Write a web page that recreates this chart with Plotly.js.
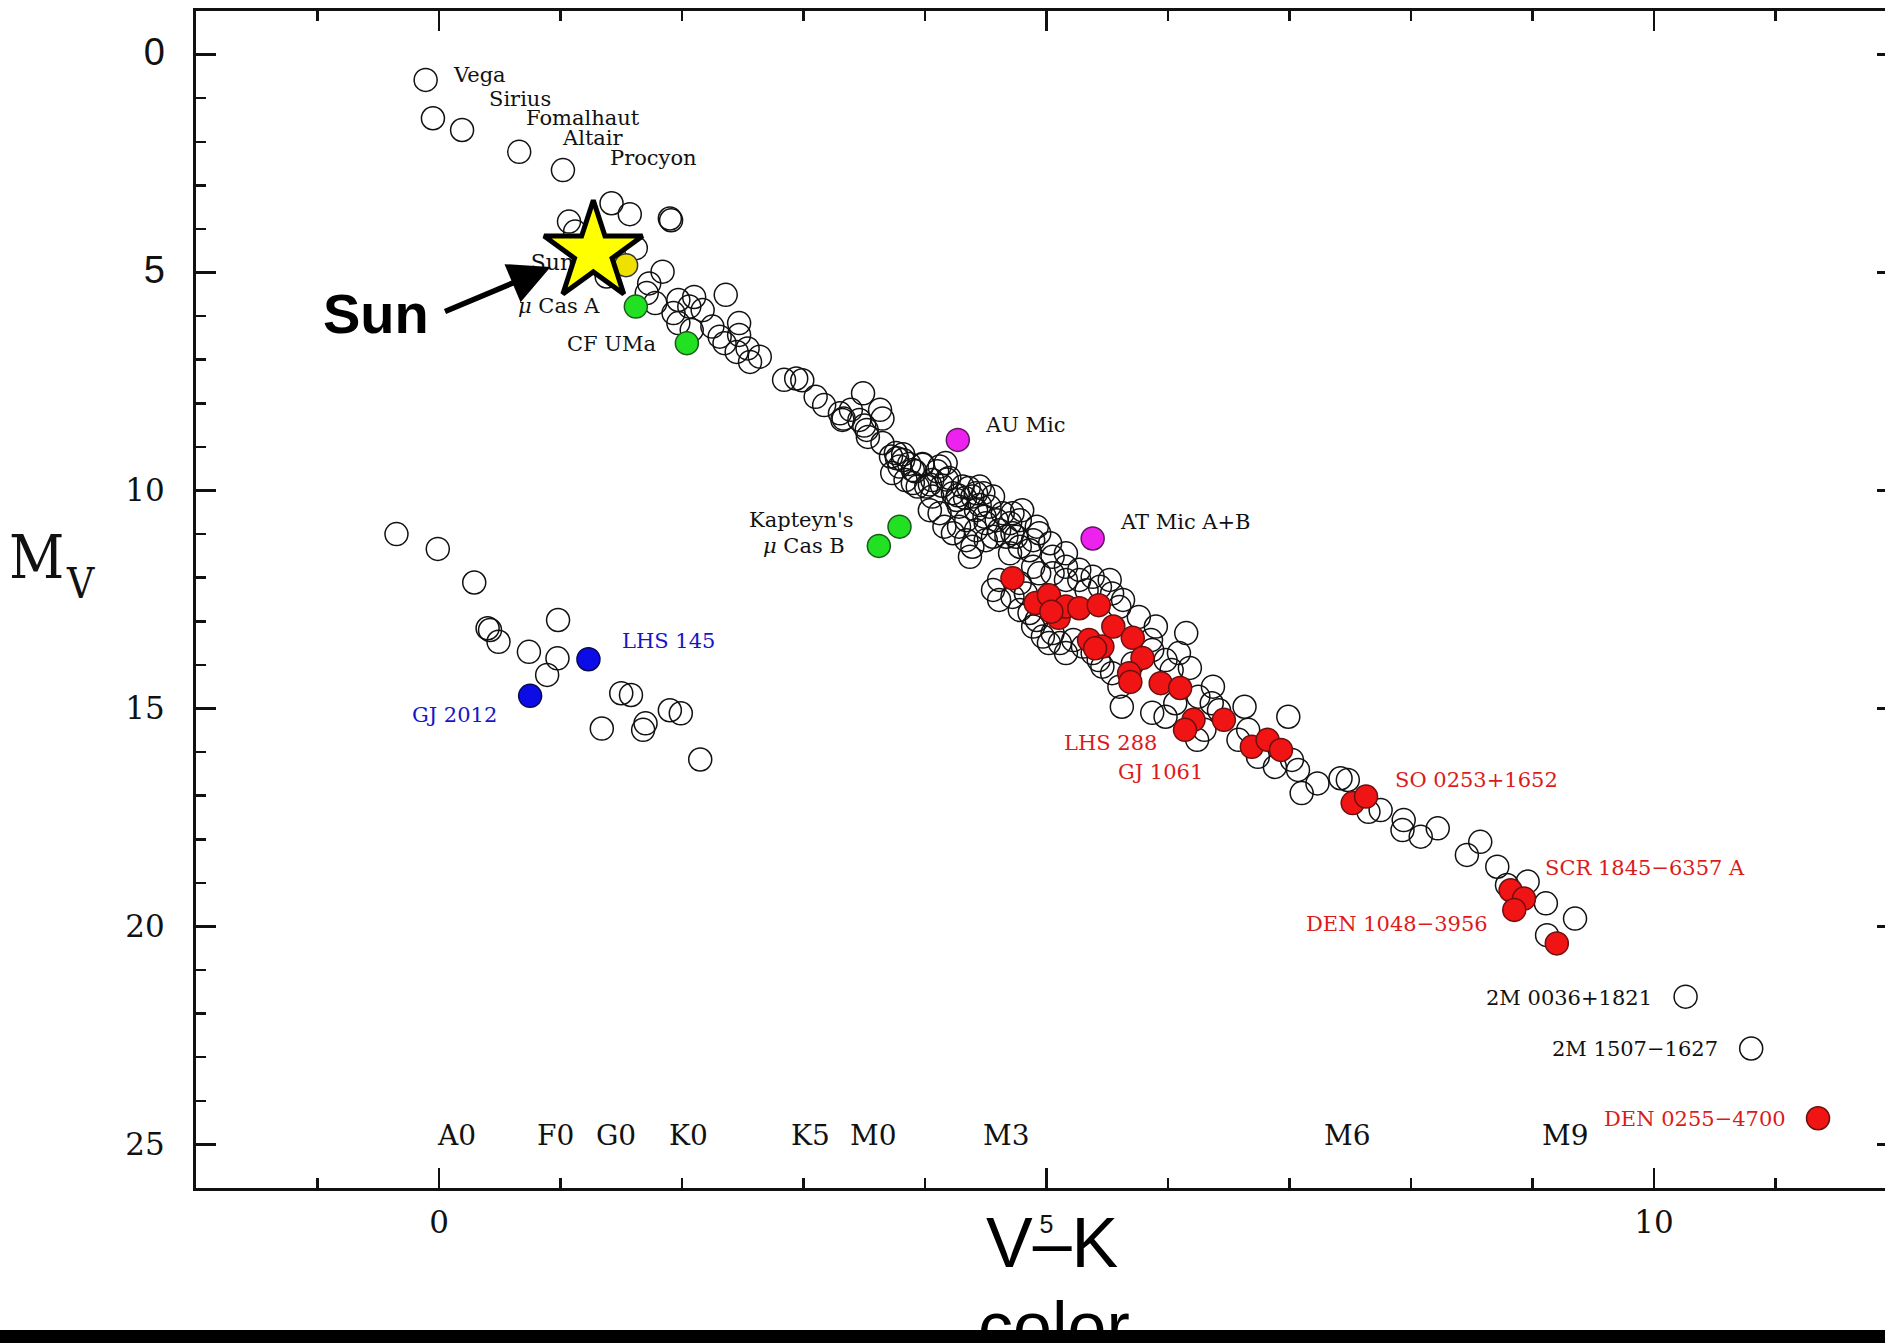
<!DOCTYPE html>
<html><head><meta charset="utf-8">
<script src="https://cdn.plot.ly/plotly-3.0.1.min.js"></script>
<style>
html,body{margin:0;padding:0;background:#000;overflow:hidden;width:1885px;height:1343px}
#chart{position:absolute;left:0;top:0;width:1900px;height:1330px}
</style>
</head><body><div id="chart"></div>
<script>
// ---- open circles: bright stars + main sequence (V-K, Mv)
const msX = [-0.11,-0.05,0.19,0.66,1.02,1.42,1.57,1.90,1.91,1.07,1.12,1.62,1.38,1.84,1.73,1.71,1.78,1.97,1.93,2.06,1.97,2.08,2.10,
 2.36,2.17,2.25,2.31,2.35,2.47,2.47,2.45,2.54,2.56,2.64,2.84,2.94,2.99,3.10,3.17,3.30,3.32,3.49,3.39,3.46,3.63,3.52,3.53,3.65,3.76,3.79,3.73,3.84,3.90,3.94,3.98,4.06,4.12,4.17,4.20,4.23,4.06,4.04,4.12,4.16,4.23,4.34,4.28,4.31,4.39,4.45,4.42,4.49,4.53,4.59,4.61,4.70,4.64,4.72,4.78,4.80,4.34,4.39,4.50,4.56,4.67,4.75,4.37,4.89,4.94,5.03,5.05,4.56,4.61,4.78,4.72,4.83,4.94,5.05,5.16,5.16,5.27,5.33,5.44,5.54,5.60,4.92,5.05,5.11,5.22,6.15,5.38,5.46,5.54,5.71,5.60,
 3.72,3.82,3.90,4.01,4.26,4.48,4.56,4.50,4.42,4.28,4.72,4.92,4.86,4.78,4.70,5.16,4.89,5.27,5.38,5.52,5.63,4.61,4.86,4.89,
 4.78,4.97,5.87,5.98,6.03,6.18,5.62,5.87,5.98,6.06,6.25,6.37,6.36,6.42,6.24,6.30,6.63,6.58,6.66,6.99,6.74,6.88,7.02,7.07,7.10,7.23,7.42,7.48,7.75,7.94,7.93,8.08,8.22,8.57,8.46,5.76,5.90,5.86,6.09,5.02,5.16,5.30,5.43,
 7.65,8.71,8.79,8.96,9.11,9.35,9.12,10.26,10.80,
 3.33,3.50,3.65,3.77,3.82,3.87,3.92,3.98,4.04,4.10,4.14,4.18,4.27,4.33,4.36,4.42,4.45];
const msY = [0.58,1.46,1.73,2.23,2.65,3.41,3.66,3.76,3.80,3.83,4.06,4.44,5.09,4.98,5.25,5.47,5.70,5.63,5.93,5.78,6.16,6.32,5.56,
 5.51,5.86,6.24,6.47,6.62,6.16,6.43,6.82,6.74,7.05,6.93,7.46,7.43,7.47,7.85,8.04,8.23,8.38,7.77,8.15,8.38,8.15,8.61,8.77,8.91,9.14,9.45,9.60,9.76,9.53,9.91,9.41,9.76,9.45,9.37,9.71,10.06,10.14,10.45,10.52,10.83,10.98,10.68,10.37,9.91,10.14,9.91,10.45,10.60,10.37,10.68,10.91,10.75,10.52,10.52,10.68,10.45,11.14,11.29,11.14,11.06,11.06,11.06,11.52,11.14,10.98,11.21,11.52,12.28,12.05,12.12,12.44,12.36,11.90,11.90,11.75,12.05,12.05,12.29,12.21,12.36,12.67,12.97,13.27,13.50,13.43,13.27,13.73,14.04,14.19,13.97,14.50,
 9.22,9.30,9.83,9.91,10.22,10.06,10.14,10.75,10.91,10.83,10.98,10.83,11.37,11.29,11.44,11.44,11.75,11.82,11.98,12.05,12.51,12.51,12.81,13.12,
 12.74,13.35,13.66,13.89,14.12,14.07,14.96,15.10,15.19,14.88,14.73,14.50,14.88,15.04,15.72,15.49,14.96,15.72,15.49,15.19,16.11,16.34,16.18,16.41,16.94,16.72,16.60,16.64,17.33,17.56,17.79,17.94,17.75,18.06,18.36,12.90,13.12,13.43,13.73,13.50,13.73,13.58,13.89,
 17.37,18.63,19.05,18.97,19.47,19.82,20.20,21.61,22.80,
 8.35,8.51,8.35,9.26,9.17,9.39,9.56,9.39,9.86,9.56,9.89,9.75,10.11,10.17,9.94,10.06,10.33];
// ---- open circles: white dwarfs
const wdX = [-0.35,-0.01,0.29,0.40,0.42,0.49,0.98,0.74,0.975,0.89,1.50,1.58,1.34,1.70,1.68,1.90,1.99,2.15];
const wdY = [11.0,11.34,12.11,13.16,13.20,13.47,12.97,13.70,13.85,14.23,14.65,14.69,15.46,15.34,15.49,15.04,15.11,16.17];
// ---- highlighted stars
const redX = [4.72,4.91,5.02,5.10,5.16,5.27,5.43,5.35,5.46,5.55,5.71,5.79,5.68,5.69,5.94,6.10,6.21,6.14,6.46,6.69,6.82,6.93,7.52,7.63,8.82,8.93,8.85,9.20,11.35,5.04,5.40];
const redY = [12.01,12.58,12.40,12.92,12.66,12.70,12.63,13.43,13.58,13.12,13.38,13.84,14.19,14.39,14.42,14.53,15.26,15.49,15.26,15.88,15.72,15.95,17.17,17.02,19.17,19.36,19.62,20.39,24.40,12.78,13.62];
const greenX = [1.62,2.04,3.79,3.62];
const greenY = [5.78,6.62,10.83,11.27];
const magentaX = [4.27,5.38];
const magentaY = [8.84,11.10];
const blueX = [1.23,0.75];
const blueY = [13.87,14.71];
const sunDotX = [1.54], sunDotY = [4.83];
const bigStarX = [1.27], bigStarY = [4.53];

// ---- star name labels
const labelText = ['Vega','Sirius','Fomalhaut','Altair','Procyon','<i>μ</i> Cas A','CF UMa','AU Mic','AT Mic A+B',"Kapteyn's",'<i>μ</i> Cas B','LHS 145','GJ 2012','LHS 288','GJ 1061','SO 0253+1652','SCR 1845−6357 A','DEN 1048−3956','2M 0036+1821','2M 1507−1627','DEN 0255−4700'];
const labelX = [0.095,0.395,0.70,0.995,1.395,1.345,1.80,4.475,5.59,3.42,3.355,1.49,0.49,5.13,5.57,7.85,9.09,8.65,10.0,10.54,11.1];
const labelY = [0.47,1.03,1.455,1.915,2.37,5.77,6.64,8.50,10.72,10.68,11.27,13.45,15.15,15.79,16.46,16.64,18.66,19.95,21.64,22.81,24.42];
const labelSide = ['left','left','left','left','left','right','right','left','left','right','right','left','right','left','left','left','left','right','right','right','right'];
const labelColor = ['k','k','k','k','k','k','k','k','k','k','k','b','b','r','r','r','r','r','k','k','r'];

// ---- spectral types along the bottom
const specText = ['A0','F0','G0','K0','K5','M0','M3','M6','M9'];
const specX = [0.14,0.96,1.46,2.05,3.06,3.57,4.67,7.47,9.27];
const specY = 24.8;

// ---- axis ticks
const xTickVals = [0,5,10];
const xTickText = ['0','5','10'];
const yTickVals = [0,5,10,15,20,25];
const yTickText = ['0','5','10','15','20','25'];

const colorMap = {k:'#111111', b:'#1616c8', r:'#dc1a1a'};
const serif = 'DejaVu Serif, serif';
const sans = 'Liberation Sans, Arial, sans-serif';

function sansSpan(t, size){ return '<span style="font-family:Liberation Sans;font-size:'+size+'px">'+t+'</span>'; }

const openMarker = {symbol:'circle', size:23, color:'rgba(0,0,0,0)', line:{color:'#111', width:1.5}};
function filled(c, lc){ return {symbol:'circle', size:23, color:c, line:{color:lc, width:1.5}}; }

const traces = [
  {x:msX, y:msY, mode:'markers', type:'scatter', marker:openMarker, hoverinfo:'skip'},
  {x:wdX, y:wdY, mode:'markers', type:'scatter', marker:openMarker, hoverinfo:'skip'},
  {x:[0.755], y:[4.81], mode:'text', type:'scatter', text:['Sun'], textposition:'middle right', textfont:{family:serif, size:22, color:'#111'}, hoverinfo:'skip'},
  {x:sunDotX, y:sunDotY, mode:'markers', type:'scatter', marker:filled('#eee000','#333'), hoverinfo:'skip'},
  {x:greenX, y:greenY, mode:'markers', type:'scatter', marker:filled('#22e022','#1a5a1a'), hoverinfo:'skip'},
  {x:magentaX, y:magentaY, mode:'markers', type:'scatter', marker:filled('#ee22ee','#5a1a5a'), hoverinfo:'skip'},
  {x:blueX, y:blueY, mode:'markers', type:'scatter', marker:filled('#0c0ce6','#0a0a50'), hoverinfo:'skip'},
  {x:redX, y:redY, mode:'markers', type:'scatter', marker:filled('#f01414','#6a1010'), hoverinfo:'skip'},
  {x:bigStarX, y:bigStarY, mode:'markers', type:'scatter', marker:{symbol:'star', size:74, color:'#ffff00', line:{color:'#000', width:5}}, hoverinfo:'skip'}
];

const annotations = [];
labelText.forEach((t,i)=>{
  annotations.push({x:labelX[i], y:labelY[i], xref:'x', yref:'y', text:t, showarrow:false,
    xanchor:labelSide[i], yanchor:'middle', font:{family:serif, size:21, color:colorMap[labelColor[i]]}});
});
specText.forEach((t,i)=>{
  annotations.push({x:specX[i], y:specY, xref:'x', yref:'y', text:t, showarrow:false,
    xanchor:'center', yanchor:'middle', font:{family:serif, size:28, color:'#111'}});
});
// axis titles (as placed on the slide)
annotations.push({x:-0.0935, y:0.5361, xref:'paper', yref:'paper', text:'M', showarrow:false, xanchor:'center', yanchor:'middle',
  font:{family:'DejaVu Serif Condensed, Liberation Serif, serif', size:60, color:'#111'}});
annotations.push({x:-0.0680, y:0.5136, xref:'paper', yref:'paper', text:'V', showarrow:false, xanchor:'center', yanchor:'middle',
  font:{family:'DejaVu Serif Condensed, Liberation Serif, serif', size:42, color:'#111'}});
annotations.push({x:0.5032, y:-0.0465, xref:'paper', yref:'paper', text:'V–K', showarrow:false, xanchor:'center', yanchor:'middle',
  font:{family:sans, size:70, color:'#000'}});
annotations.push({x:0.5044, y:-0.1178, xref:'paper', yref:'paper', text:'color', showarrow:false, xanchor:'center', yanchor:'middle',
  font:{family:sans, size:70, color:'#000'}});
// Sun callout
annotations.push({x:-0.52, y:5.94, xref:'x', yref:'y', text:'<b>Sun</b>', showarrow:false, xanchor:'center', yanchor:'middle',
  font:{family:sans, size:56, color:'#000'}});
annotations.push({x:0.918, y:4.875, xref:'x', yref:'y', ax:0.037, ay:5.91, axref:'x', ayref:'y', text:'', showarrow:true,
  arrowhead:2, arrowsize:1.5, arrowwidth:5.5, arrowcolor:'#000'});

const axisCommon = {
  showline:true, linewidth:3, linecolor:'#111', mirror:'ticks',
  ticks:'inside', ticklen:20, tickwidth:2.5, tickcolor:'#111',
  showgrid:false, zeroline:false, tickmode:'array',
  tickfont:{family:serif, size:31, color:'#111'},
  minor:{dtick:1, tick0:0, ticks:'inside', ticklen:10, tickwidth:2.5, tickcolor:'#111', showgrid:false}
};

const layout = {
  width:1900, height:1330,
  margin:{l:196, r:3, t:11, b:142, pad:0},
  paper_bgcolor:'#ffffff', plot_bgcolor:'#ffffff',
  showlegend:false,
  xaxis:Object.assign({}, axisCommon, {range:[-2,12], tickvals:xTickVals,
    ticktext:xTickText.map(t=> t==='5' ? sansSpan(t,25) : t), ticklabelstandoff:5}),
  yaxis:Object.assign({}, axisCommon, {range:[26,-1], tickvals:yTickVals,
    ticktext:yTickText.map(t=> (t==='0'||t==='5') ? sansSpan(t,38) : t), ticklabelstandoff:22}),
  annotations:annotations,
  font:{family:serif, color:'#111'}
};

Plotly.newPlot('chart', traces, layout, {displayModeBar:false, staticPlot:true});
</script></body></html>
